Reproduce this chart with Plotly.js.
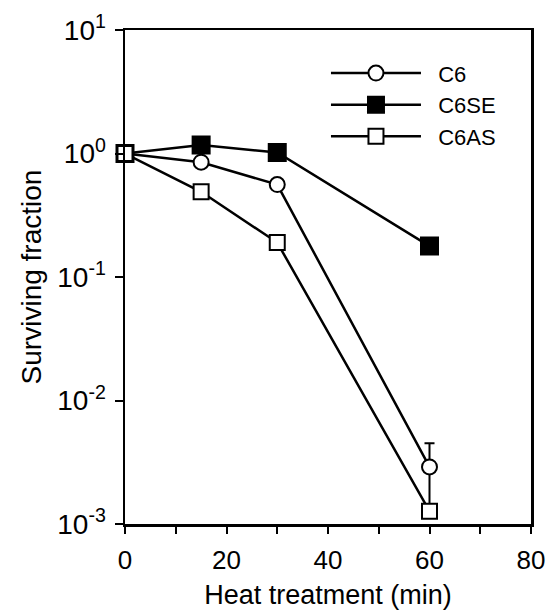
<!DOCTYPE html>
<html>
<head>
<meta charset="utf-8">
<script src="https://cdn.plot.ly/plotly-3.0.1.min.js"></script>
<style>body{margin:0;padding:0;background:#fff}#chart{width:546px;height:613px}</style>
</head>
<body>
<div id="chart"></div>
<script>
var minutes = [0, 15, 30, 60];
var c6 = [1.0, 0.85, 0.56, 0.0029];
var c6se = [1.0, 1.17, 1.02, 0.178];
var c6as = [1.0, 0.49, 0.19, 0.00127];
var c6ErrPlus = [0, 0, 0, 0.0016];
var c6ErrMinus = [0, 0, 0, 0.0016];
var yTickVals = [0.001, 0.01, 0.1, 1, 10];
var yTickText = ['10<sup>-3</sup>', '10<sup>-2</sup>', '10<sup>-1</sup>', '10<sup>0</sup>', '10<sup>1</sup>'];
var seriesNames = ['C6', 'C6SE', 'C6AS'];

var lineStyle = {color: '#000', width: 2.5};
var pad = '\u00a0\u00a0';
var traces = [
  {x: minutes, y: c6, name: pad + seriesNames[0], type: 'scatter', mode: 'lines+markers', cliponaxis: false,
   line: lineStyle,
   marker: {symbol: 'circle', size: 15, color: '#fff', line: {color: '#000', width: 2}},
   error_y: {type: 'data', array: c6ErrPlus, arrayminus: c6ErrMinus, visible: true, color: '#000', thickness: 2, width: 5}},
  {x: minutes, y: c6se, name: pad + seriesNames[1], type: 'scatter', mode: 'lines+markers', cliponaxis: false,
   line: lineStyle,
   marker: {symbol: 'square', size: 17, color: '#000', line: {color: '#000', width: 2}}},
  {x: minutes, y: c6as, name: pad + seriesNames[2], type: 'scatter', mode: 'lines+markers', cliponaxis: false,
   line: lineStyle,
   marker: {symbol: 'square', size: 15, color: '#fff', line: {color: '#000', width: 2}}}
];

var layout = {
  width: 546, height: 613,
  margin: {l: 125, r: 15, t: 30, b: 89},
  paper_bgcolor: '#fff', plot_bgcolor: '#fff',
  font: {family: 'Liberation Sans, Arial, sans-serif', color: '#000'},
  showlegend: true,
  legend: {x: 0.495, y: 0.955, xanchor: 'left', yanchor: 'top', bgcolor: 'rgba(0,0,0,0)',
           font: {size: 22, color: '#000'}, itemwidth: 90, tracegroupgap: 0},
  xaxis: {
    range: [0, 80], dtick: 20, tick0: 0,
    showline: true, mirror: true, linecolor: '#000', linewidth: 2.5,
    ticks: 'outside', ticklen: 7, tickwidth: 2, tickcolor: '#000',
    minor: {dtick: 10, ticks: 'outside', ticklen: 7, tickwidth: 2, tickcolor: '#000'},
    showgrid: false, zeroline: false,
    tickfont: {size: 26}, ticklabelstandoff: 4, ticklabeloverflow: 'allow',
    title: {text: 'Heat treatment (min)', font: {size: 27}, standoff: 12}
  },
  yaxis: {
    type: 'log', range: [-3, 1],
    tickvals: yTickVals, ticktext: yTickText,
    showline: true, mirror: true, linecolor: '#000', linewidth: 2.5,
    ticks: 'outside', ticklen: 8, tickwidth: 2, tickcolor: '#000',
    showgrid: false, zeroline: false,
    tickfont: {size: 28}, ticklabelstandoff: 3, ticklabeloverflow: 'allow',
    title: {text: 'Surviving fraction', font: {size: 28}, standoff: 8}
  }
};

Plotly.newPlot('chart', traces, layout, {displayModeBar: false, staticPlot: true});
</script>
</body>
</html>
